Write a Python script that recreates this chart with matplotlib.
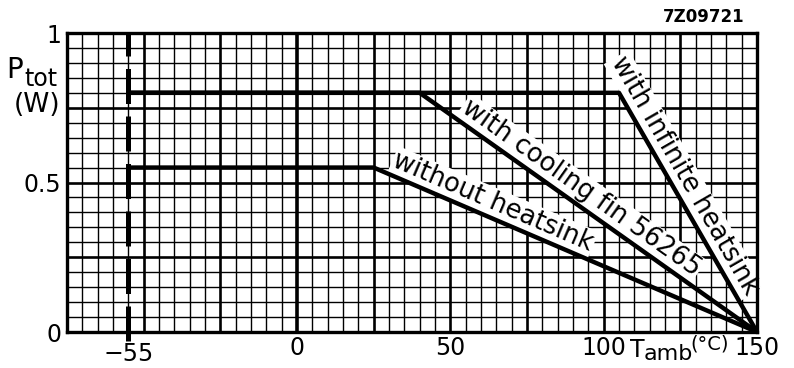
import numpy as np
import matplotlib.pyplot as plt

# derating curves (T_amb in degC, P_tot in W)
t_no_heatsink = [-55, 25, 150]
p_no_heatsink = [0.55, 0.55, 0.0]
t_cooling_fin = [-55, 40, 150]
p_cooling_fin = [0.8, 0.8, 0.0]
t_inf_heatsink = [-55, 105, 150]
p_inf_heatsink = [0.8, 0.8, 0.0]

curve_labels = ['without heatsink', 'with cooling fin 56265', 'with infinite heatsink']
label_at_t = [62.0, 89.7, 122.0]   # temperature on the sloped part where the label sits

x_ticks = [0, 50, 100, 150]
y_ticks = [0, 0.5, 1]
y_tick_labels = ['0', '0.5', '1']
t_min = -55

plt.rcParams['font.family'] = ['DejaVu Sans']

fig = plt.figure(figsize=(7.94, 3.68), dpi=100)
ax = fig.add_axes([0.0844, 0.0978, 0.869, 0.8125])
ax.set_xlim(-75, 150)
ax.set_ylim(0, 1)

# graph paper grid
for x in np.arange(-75, 151, 5):
    lw = 1.9 if x % 25 == 0 else 1.0
    if x == 0:
        lw = 2.6
    ax.axvline(x, color='black', lw=lw, zorder=1)
for y in np.arange(0, 1.001, 0.05):
    lw = 1.9 if round(y / 0.05) % 5 == 0 else 1.0
    ax.axhline(y, color='black', lw=lw, zorder=1)

for s in ax.spines.values():
    s.set_linewidth(2.4)

# -55 limit line
ax.plot([t_min, t_min], [-0.03, 1.0], color='black', lw=3.6,
        dashes=(7, 2.5), clip_on=False, zorder=3, solid_capstyle='butt')

curves = [(t_no_heatsink, p_no_heatsink), (t_cooling_fin, p_cooling_fin),
          (t_inf_heatsink, p_inf_heatsink)]
for (t, p), lab, lt in zip(curves, curve_labels, label_at_t):
    ax.plot(t, p, color='black', lw=3.2, zorder=4, solid_capstyle='round')
    a = ax.transData.transform((t[1], p[1]))
    b = ax.transData.transform((t[2], p[2]))
    ang = np.arctan2(b[1] - a[1], b[0] - a[0])
    lp = np.interp(lt, t[1:], p[1:])
    off = 6.0
    ax.annotate(lab, xy=(lt, lp), xytext=(-off * np.sin(ang), off * np.cos(ang)),
                textcoords='offset points', rotation=np.degrees(ang),
                rotation_mode='anchor', ha='center', va='baseline',
                fontsize=18.5, zorder=2,
                bbox=dict(facecolor='white', edgecolor='none', pad=1.0))

ax.set_xticks(x_ticks)
ax.set_xticklabels([str(v) for v in x_ticks], fontsize=17)
ax.set_xticks([t_min], minor=True)
ax.set_xticklabels(['\u221255'], minor=True, fontsize=17)
ax.set_yticks(y_ticks)
ax.set_yticklabels(y_tick_labels, fontsize=17)
ax.tick_params(axis='x', which='major', length=0, pad=3)
ax.tick_params(axis='x', which='minor', length=0, pad=7)
ax.tick_params(axis='y', length=0, pad=4)

# axis titles
W, H = 794, 368
fig.text(630 / W, 1 - 357 / H, 'T', ha='left', va='baseline', fontsize=17)
fig.text(644 / W, 1 - 360 / H, 'amb', ha='left', va='baseline', fontsize=16)
fig.text(690 / W, 1 - 344 / H, '(°C)', ha='left', va='center', fontsize=14)

fig.text(6 / W, 1 - 78 / H, 'P', ha='left', va='baseline', fontsize=20)
fig.text(24 / W, 1 - 86 / H, 'tot', ha='left', va='baseline', fontsize=17)
fig.text(37 / W, 1 - 105 / H, '(W)', ha='center', va='center', fontsize=19)
fig.text(745 / W, 1 - 17 / H, '7Z09721', ha='right', va='center',
         fontsize=12, fontweight='bold')

fig.savefig('out.png', dpi=100)
